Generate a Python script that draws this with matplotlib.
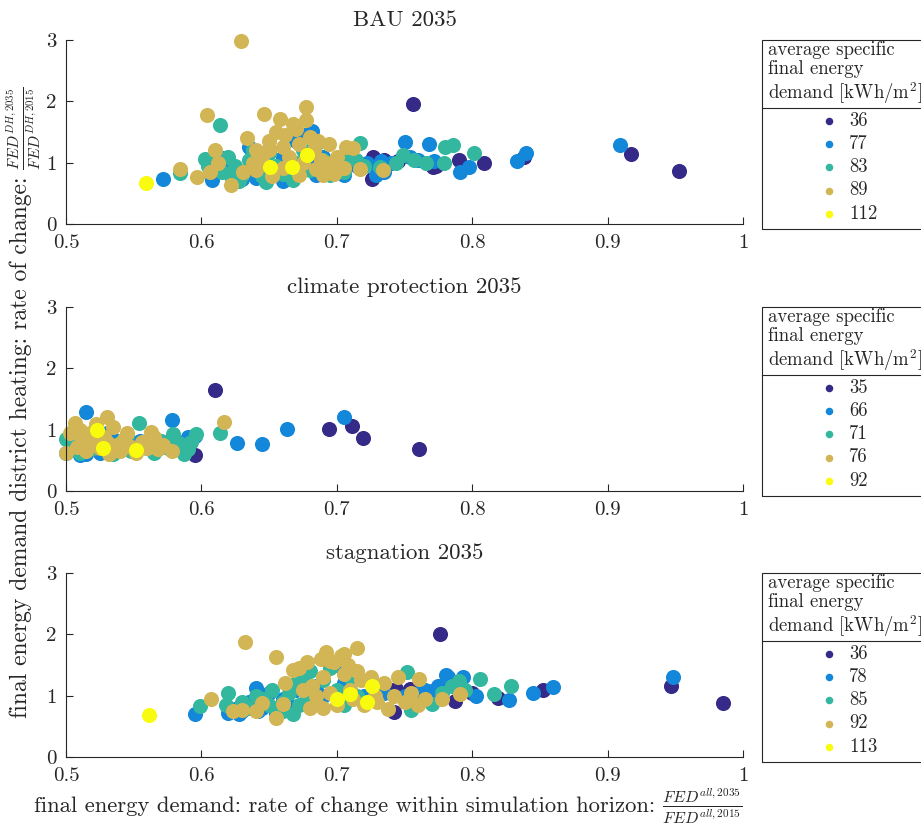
import matplotlib
matplotlib.use('Agg')
import matplotlib.pyplot as plt
from matplotlib.patches import Rectangle
from matplotlib.lines import Line2D

plt.rcParams['font.family'] = 'cmr10'
plt.rcParams['mathtext.fontset'] = 'cm'
plt.rcParams['axes.formatter.use_mathtext'] = True

# ---- data ----
colors = ['#352a87', '#1387d9', '#33b89f', '#d2b656', '#f9fb0e']

titles = ['BAU 2035', 'climate protection 2035', 'stagnation 2035']
legend_labels = [['36', '77', '83', '89', '112'],
                 ['35', '66', '71', '76', '92'],
                 ['36', '78', '85', '92', '113']]

# BAU 2035
bau_x_1 = [0.756, 0.917, 0.953, 0.809, 0.790, 0.771, 0.838, 0.726, 0.727, 0.773, 0.745, 0.700, 0.735]
bau_y_1 = [1.96, 1.14, 0.87, 1.00, 1.05, 0.93, 1.09, 0.73, 1.10, 0.95, 1.02, 0.98, 1.05]
bau_x_2 = [0.572, 0.608, 0.682, 0.750, 0.768, 0.754, 0.772, 0.791, 0.798, 0.833, 0.840, 0.909, 0.740,
           0.733, 0.729, 0.735, 0.760, 0.617, 0.620, 0.625, 0.630, 0.640, 0.645, 0.650, 0.655, 0.660,
           0.665, 0.670, 0.675, 0.680, 0.685, 0.690, 0.695, 0.700, 0.705, 0.710, 0.715, 0.722, 0.640,
           0.660, 0.635]
bau_y_2 = [0.73, 0.72, 1.52, 1.33, 1.30, 1.09, 1.02, 0.84, 0.93, 1.03, 1.16, 1.29, 1.00,
           1.03, 0.80, 0.85, 1.05, 1.07, 0.95, 0.80, 0.73, 0.75, 1.00, 1.20, 0.82, 1.10,
           0.90, 1.35, 1.45, 1.00, 0.80, 1.10, 0.90, 0.85, 0.80, 1.00, 0.95, 1.00, 1.10,
           0.70, 1.25]
bau_x_3 = [0.614, 0.717, 0.786, 0.780, 0.801, 0.779, 0.749, 0.744, 0.603, 0.584, 0.732, 0.766, 0.757,
           0.610, 0.615, 0.620, 0.625, 0.630, 0.635, 0.640, 0.645, 0.648, 0.650, 0.655, 0.660, 0.668,
           0.670, 0.675, 0.680, 0.685, 0.690, 0.695, 0.700, 0.705, 0.710, 0.714, 0.720, 0.622, 0.638,
           0.628, 0.605]
bau_y_3 = [1.62, 1.32, 1.29, 1.26, 1.16, 1.00, 1.13, 0.99, 1.06, 0.83, 0.93, 1.00, 1.05,
           1.00, 0.85, 1.10, 0.95, 0.80, 1.05, 0.90, 0.78, 0.69, 1.15, 0.95, 0.82, 0.72,
           1.00, 1.20, 0.88, 1.30, 1.05, 0.80, 1.00, 0.85, 1.10, 1.05, 0.95, 0.78, 1.20,
           0.70, 0.95]
bau_x_4 = [0.629, 0.604, 0.646, 0.658, 0.677, 0.677, 0.668, 0.634, 0.694, 0.707, 0.717, 0.734, 0.584,
           0.597, 0.610, 0.612, 0.606, 0.622, 0.631, 0.640, 0.645, 0.650, 0.655, 0.660, 0.662, 0.665,
           0.670, 0.672, 0.675, 0.680, 0.683, 0.685, 0.688, 0.690, 0.695, 0.698, 0.700, 0.705, 0.712,
           0.640, 0.652, 0.660, 0.672, 0.638, 0.650, 0.678, 0.686, 0.692]
bau_y_4 = [2.98, 1.77, 1.79, 1.72, 1.90, 1.69, 1.63, 1.40, 1.30, 1.25, 0.90, 0.88, 0.89,
           0.77, 1.20, 1.00, 0.85, 0.64, 0.85, 1.20, 1.05, 1.35, 1.50, 1.25, 1.45, 1.10,
           1.55, 1.30, 1.00, 1.42, 1.20, 0.90, 1.05, 0.80, 0.95, 0.82, 1.10, 0.92, 1.24,
           0.88, 0.78, 0.92, 0.80, 1.00, 1.20, 1.12, 1.35, 1.00]
bau_x_5 = [0.559, 0.651, 0.667, 0.678]
bau_y_5 = [0.67, 0.93, 0.93, 1.13]

# climate protection 2035
cp_x_1 = [0.610, 0.694, 0.711, 0.719, 0.761, 0.595, 0.572, 0.550]
cp_y_1 = [1.65, 1.01, 1.06, 0.87, 0.68, 0.58, 0.80, 0.70]
cp_x_2 = [0.705, 0.663, 0.645, 0.626, 0.515, 0.578, 0.500, 0.510, 0.515, 0.520, 0.525, 0.535, 0.545,
          0.550, 0.555, 0.570, 0.580, 0.590, 0.595, 0.530, 0.560]
cp_y_2 = [1.21, 1.01, 0.76, 0.78, 1.28, 1.15, 0.62, 0.58, 0.60, 0.75, 0.62, 0.85, 0.80,
          0.78, 0.82, 0.75, 0.70, 0.88, 0.90, 0.95, 0.70]
cp_x_3 = [0.554, 0.614, 0.596, 0.579, 0.587, 0.500, 0.505, 0.510, 0.520, 0.530, 0.540, 0.545, 0.548,
          0.560, 0.565, 0.570, 0.575, 0.580, 0.585, 0.590, 0.592, 0.525, 0.535]
cp_y_3 = [1.11, 0.95, 0.93, 0.93, 0.60, 0.84, 0.75, 0.62, 0.70, 0.65, 0.78, 0.90, 0.65,
          0.75, 0.62, 0.82, 0.70, 0.85, 0.76, 0.68, 0.80, 0.85, 0.60]
cp_x_4 = [0.617, 0.530, 0.522, 0.507, 0.563, 0.578, 0.500, 0.503, 0.508, 0.512, 0.515, 0.518, 0.520,
          0.525, 0.528, 0.532, 0.535, 0.538, 0.540, 0.543, 0.548, 0.552, 0.556, 0.560, 0.565, 0.568,
          0.572, 0.530, 0.510, 0.545]
cp_y_4 = [1.12, 1.20, 1.10, 1.11, 0.96, 0.65, 0.62, 0.95, 0.72, 0.85, 0.65, 0.95, 0.78,
          0.70, 0.88, 0.60, 1.05, 0.75, 0.65, 0.85, 0.72, 0.62, 0.80, 0.70, 0.88, 0.68,
          0.75, 0.80, 1.00, 0.95]
cp_x_5 = [0.523, 0.527, 0.552]
cp_y_5 = [1.00, 0.70, 0.67]

# stagnation 2035
st_x_1 = [0.776, 0.947, 0.985, 0.852, 0.819, 0.787, 0.742, 0.744, 0.754, 0.800, 0.730, 0.770]
st_y_1 = [2.00, 1.16, 0.88, 1.09, 0.97, 0.92, 0.73, 1.11, 1.11, 1.05, 1.05, 1.00]
st_x_2 = [0.948, 0.860, 0.845, 0.827, 0.803, 0.782, 0.793, 0.781, 0.595, 0.620, 0.625, 0.630, 0.635,
          0.640, 0.645, 0.650, 0.655, 0.660, 0.665, 0.670, 0.680, 0.690, 0.700, 0.705, 0.710, 0.720,
          0.725, 0.735, 0.750, 0.760, 0.765, 0.770, 0.775, 0.790, 0.628, 0.642, 0.685]
st_y_2 = [1.31, 1.14, 1.05, 0.93, 0.99, 1.31, 1.31, 1.33, 0.70, 0.72, 0.78, 0.75, 0.90,
          1.12, 0.80, 1.05, 0.72, 0.95, 0.85, 1.10, 0.90, 1.00, 1.50, 1.20, 1.10, 1.00,
          1.26, 1.05, 1.00, 1.05, 1.10, 1.08, 1.15, 1.20, 0.70, 0.75, 1.15]
st_x_3 = [0.752, 0.755, 0.829, 0.816, 0.806, 0.790, 0.770, 0.599, 0.620, 0.618, 0.630, 0.635, 0.640,
          0.645, 0.650, 0.652, 0.655, 0.660, 0.665, 0.668, 0.670, 0.672, 0.675, 0.678, 0.680, 0.685,
          0.690, 0.695, 0.700, 0.705, 0.710, 0.715, 0.795, 0.785, 0.778, 0.660]
st_y_3 = [1.38, 0.77, 1.16, 1.03, 1.27, 1.24, 0.87, 0.83, 1.05, 0.85, 0.90, 0.80, 1.00,
          0.95, 0.85, 1.10, 0.78, 0.90, 1.05, 0.70, 1.20, 0.85, 1.30, 1.00, 1.40, 0.90,
          1.25, 1.45, 1.10, 0.85, 1.30, 1.00, 1.10, 1.15, 1.05, 0.75]
st_x_4 = [0.632, 0.655, 0.655, 0.715, 0.607, 0.765, 0.778, 0.791, 0.761, 0.623, 0.630, 0.645, 0.660,
          0.662, 0.668, 0.672, 0.678, 0.680, 0.682, 0.688, 0.690, 0.692, 0.695, 0.698, 0.700, 0.703,
          0.705, 0.708, 0.710, 0.712, 0.715, 0.718, 0.720, 0.725, 0.728, 0.730, 0.735, 0.738, 0.742,
          0.745, 0.750, 0.755, 0.760, 0.675, 0.685, 0.690, 0.640, 0.695, 0.705]
st_y_4 = [1.87, 1.63, 0.63, 1.78, 0.95, 0.95, 0.95, 1.03, 1.27, 0.75, 0.77, 0.88, 0.87,
          1.21, 1.42, 1.45, 1.55, 0.80, 1.15, 1.60, 1.30, 1.72, 1.05, 1.55, 0.85, 1.65,
          1.35, 1.50, 1.10, 0.95, 1.40, 1.25, 0.85, 1.30, 1.00, 0.90, 1.20, 0.78, 1.00,
          1.30, 0.90, 1.05, 0.85, 1.10, 1.00, 0.80, 0.75, 1.57, 1.68]
st_x_5 = [0.561, 0.700, 0.710, 0.722, 0.726]
st_y_5 = [0.69, 0.94, 1.03, 0.89, 1.16]

panels = [
    [(bau_x_1, bau_y_1), (bau_x_2, bau_y_2), (bau_x_3, bau_y_3), (bau_x_4, bau_y_4), (bau_x_5, bau_y_5)],
    [(cp_x_1, cp_y_1), (cp_x_2, cp_y_2), (cp_x_3, cp_y_3), (cp_x_4, cp_y_4), (cp_x_5, cp_y_5)],
    [(st_x_1, st_y_1), (st_x_2, st_y_2), (st_x_3, st_y_3), (st_x_4, st_y_4), (st_x_5, st_y_5)],
]

W, H = 921, 827
fig = plt.figure(figsize=(W / 100, H / 100), dpi=100)
ax_tops = [40, 307, 573]
ax_h = 184
ink = '#262626'

for i, top in enumerate(ax_tops):
    ax = fig.add_axes([66 / W, 1 - (top + ax_h) / H, 677 / W, ax_h / H])
    handles = []
    for (xs, ys), c in zip(panels[i], colors):
        h = ax.scatter(xs, ys, s=118, color=c, linewidths=0, clip_on=False, zorder=2)
        handles.append(h)
    ax.set_xlim(0.5, 1)
    ax.set_ylim(0, 3)
    ax.set_xticks([0.5, 0.6, 0.7, 0.8, 0.9, 1])
    ax.set_xticklabels(['0.5', '0.6', '0.7', '0.8', '0.9', '1'])
    ax.set_yticks([0, 1, 2, 3])
    ax.set_yticklabels(['0', '1', '2', '3'])
    ax.spines['top'].set_visible(False)
    ax.spines['right'].set_visible(False)
    for sp in ['left', 'bottom']:
        ax.spines[sp].set_color(ink)
        ax.spines[sp].set_linewidth(0.8)
    ax.tick_params(direction='in', length=5, width=0.8, color=ink, labelcolor=ink,
                   labelsize=15, pad=7)
    ax.set_title(titles[i], fontsize=16.5, color=ink, pad=10)

    # legend box
    x0 = (762 - 66) / 677
    y_bot = 1 - 189 / ax_h
    ax.add_patch(Rectangle((x0, y_bot), 0.4, 1 - y_bot, transform=ax.transAxes,
                           fill=False, ec=ink, lw=0.8, clip_on=False))
    sep = 1 - 68 / ax_h
    ax.add_line(Line2D([x0, x0 + 0.4], [sep, sep], transform=ax.transAxes,
                       color=ink, lw=0.8, clip_on=False))
    ax.text((768 - 66) / 677, 1 - 1 / ax_h,
            'average specific\nfinal energy\ndemand [kWh/m$^2$]',
            transform=ax.transAxes, ha='left', va='top', fontsize=13.5,
            color=ink, linespacing=1.08)
    ax.legend(handles, legend_labels[i], loc='upper left',
              bbox_to_anchor=((820 - 66) / 677, 1 - 72 / ax_h),
              frameon=False, fontsize=13.5, markerscale=0.5, handlelength=1.0,
              handletextpad=0.55, labelspacing=0.28, borderpad=0, borderaxespad=0,
              scatterpoints=1, labelcolor=ink)

# axis labels
fig.text(655 / W, 1 - 806 / H, 'final energy demand: rate of change within simulation horizon:',
         ha='right', va='center', fontsize=16.3, color=ink)
fig.text(662 / W, 1 - 806 / H, r'$\frac{FED^{all,2035}}{FED^{all,2015}}$',
         ha='left', va='center', fontsize=16.5, color=ink)
fig.text(21 / W, 1 - 177 / H, 'final energy demand district heating: rate of change:',
         rotation=90, rotation_mode='anchor', ha='right', va='center', fontsize=17, color=ink)
fig.text(24 / W, 1 - 170 / H, r'$\frac{FED^{DH,2035}}{FED^{DH,2015}}$',
         rotation=90, rotation_mode='anchor', ha='left', va='center', fontsize=16, color=ink)

fig.savefig('out.png', dpi=100)
